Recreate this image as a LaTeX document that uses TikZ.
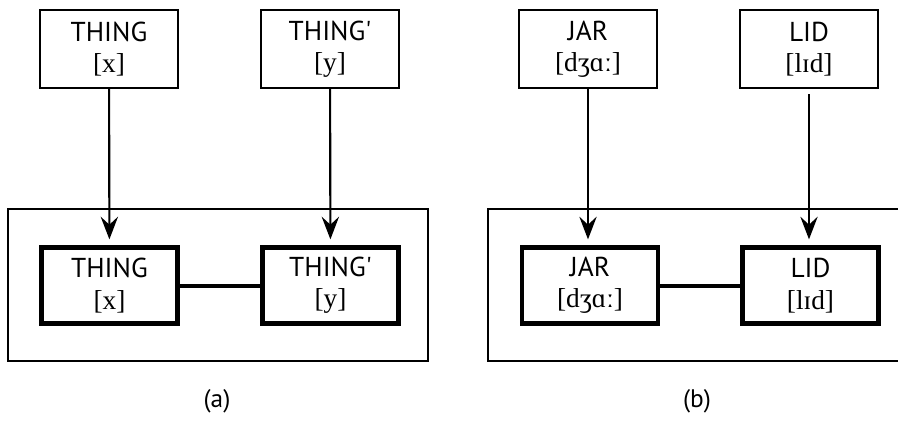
\documentclass[tikz,border=0pt]{standalone}
\usepackage{fontspec}
\setmainfont{Liberation Serif}
\setsansfont{PT Sans}
\usetikzlibrary{arrows.meta}
\tikzset{
  x=0.75pt, y=-0.75pt,
  lbl/.style={align=center, inner sep=0pt, font=\fontsize{20.5}{25.5}\selectfont},
  topbox/.style={lbl, draw, line width=1.6pt, minimum width=103.5pt, minimum height=58.5pt},
  innerbox/.style={lbl, draw, line width=3.2pt, minimum width=102pt, minimum height=57pt},
  outerbox/.style={draw, line width=1.3pt},
  arr/.style={-{Stealth[length=17pt,width=13pt,inset=6pt]}, line width=1.6pt, shorten >=4.5pt},
  link/.style={line width=3pt},
  panellabel/.style={font=\sffamily\fontsize{19}{22}\selectfont}
}
\newcommand{\tw}[2]{\textsf{#1}\\[-2pt]#2}
\begin{document}
\begin{tikzpicture}
\clip (0,0) rectangle (898,421);
% panel (a)
\draw[outerbox] (8,209) rectangle (428,361);
\node[topbox] (ta) at (109,49) {\tw{THING}{[x]}};
\node[topbox] (tb) at (330,49) {\tw{THING\textquotesingle}{[y]}};
\node[innerbox] (ia) at (109.5,285.5) {\tw{THING}{[x]}};
\node[innerbox] (ib) at (330.5,285.5) {\tw{THING\textquotesingle}{[y]}};
\draw[arr] (ta) -- (ia);
\draw[arr] (tb) -- (ib);
\draw[link] (ia) -- (ib);
\node[panellabel] (ca) at (217,401) {(a)};
% panel (b)
\draw[outerbox] (488,209) rectangle (910,361);
\node[topbox] (tc) at (588,49) {\tw{JAR}{[dʒɑː]}};
\node[topbox] (td) at (809,49) {\tw{LID}{[lɪd]}};
\node[innerbox] (ic) at (590,285.5) {\tw{JAR}{[dʒɑː]}};
\node[innerbox] (id) at (810.5,285.5) {\tw{LID}{[lɪd]}};
\draw[arr] (tc) -- (tc|-ic.north);
\draw[arr, shorten <=4pt] (td) -- (td|-id.north);
\draw[link] (ic) -- (id);
\node[panellabel] (cb) at (697,401) {(b)};
\end{tikzpicture}
\end{document}
